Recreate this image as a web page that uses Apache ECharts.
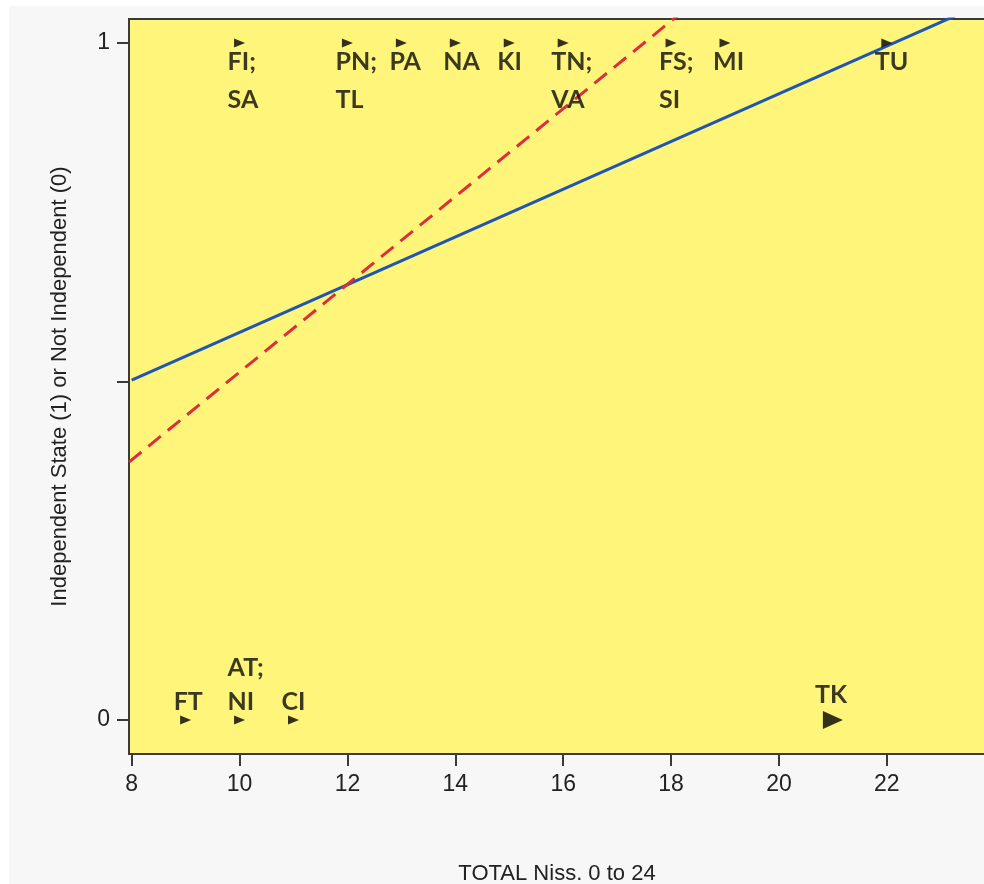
<!DOCTYPE html>
<html>
<head>
<meta charset="utf-8">
<script src="https://cdn.jsdelivr.net/npm/echarts@6/dist/echarts.min.js"></script>
<style>
html,body{margin:0;padding:0;background:#fff;}
#bg{position:absolute;left:9px;top:6px;width:975px;height:878px;background:#f7f7f7;}
#chart{position:absolute;left:0;top:0;width:984px;height:884px;}
</style>
</head>
<body>
<div id="bg"></div>
<div id="chart"></div>
<script>
// Data
const xTicks = [8, 10, 12, 14, 16, 18, 20, 22];
const yTicks = [0, 0.5, 1];
const yTickLabels = [0, 1];

const indepX = [10, 12, 13, 14, 15, 16, 18, 19, 22];
const indepLabels = ['FI;\nSA', 'PN;\nTL', 'PA', 'NA', 'KI', 'TN;\nVA', 'FS;\nSI', 'MI', 'TU'];

const notIndepX = [9, 10, 11];
const notIndepLabels = ['FT', 'AT;\nNI', 'CI'];

const tkX = [21];
const tkLabels = ['TK'];

const linearFit = [[8, 0.502], [24, 1.066]];
const logisticFit = [[7.95, 0.381], [18.5, 1.065]];

const chart = echarts.init(document.getElementById('chart'), null, {renderer: 'canvas'});

const labelFont = {fontFamily: 'Lato', fontWeight: 'bold', fontSize: 25, color: '#0a0a0a'};

function pts(xs, y, labels) {
  return xs.map((x, i) => ({value: [x, y], label: {formatter: labels[i]}}));
}

const option = {
  backgroundColor: 'transparent',
  animation: false,
  grid: {
    left: 129, top: 19, right: -1, bottom: 130,
    outerBoundsMode: 'none', containLabel: false,
    show: true, backgroundColor: '#fff57a', borderColor: '#3a3a3a', borderWidth: 2
  },
  xAxis: {
    type: 'value', min: 7.95, max: 23.82,
    name: 'TOTAL Niss. 0 to 24', nameLocation: 'middle', nameGap: 109,
    nameTextStyle: {fontFamily: 'Liberation Sans', fontSize: 22, color: '#222'},
    splitLine: {show: false},
    axisLine: {show: true, onZero: false, lineStyle: {color: '#3a3a3a', width: 2}},
    axisTick: {show: true, length: 12, customValues: xTicks, lineStyle: {color: '#3a3a3a', width: 2}},
    axisLabel: {customValues: xTicks, margin: 19, fontFamily: 'Liberation Sans', fontSize: 23, color: '#222'}
  },
  yAxis: {
    type: 'value', min: -0.0502, max: 1.0355,
    name: 'Independent State (1) or Not Independent (0)', nameLocation: 'middle', nameGap: 58,
    nameTextStyle: {fontFamily: 'Liberation Sans', fontSize: 22, color: '#222'},
    splitLine: {show: false},
    axisLine: {show: true, onZero: false, lineStyle: {color: '#3a3a3a', width: 2}},
    axisTick: {show: true, length: 12, customValues: yTicks, lineStyle: {color: '#3a3a3a', width: 2}},
    axisLabel: {customValues: yTickLabels, margin: 19, fontFamily: 'Liberation Sans', fontSize: 23, color: '#222'}
  },
  series: [
    {
      type: 'line', data: linearFit, showSymbol: false, clip: true, z: 3,
      lineStyle: {color: '#1f56b4', width: 3}
    },
    {
      type: 'line', data: logisticFit, showSymbol: false, clip: true, z: 3,
      lineStyle: {color: '#d9303c', width: 3, type: [16, 9]}
    },
    {
      type: 'scatter', data: pts(indepX, 1, indepLabels), z: 5,
      symbol: 'triangle', symbolSize: [9, 11], symbolRotate: -90,
      itemStyle: {color: '#000'},
      label: Object.assign({show: true, position: 'bottom', distance: 0, offset: [-12, -5],
        align: 'left', lineHeight: 38}, labelFont)
    },
    {
      type: 'scatter', data: pts(notIndepX, 0, notIndepLabels), z: 5,
      symbol: 'triangle', symbolSize: [9, 11], symbolRotate: -90,
      itemStyle: {color: '#000'},
      label: Object.assign({show: true, position: 'top', distance: 0, offset: [-12, 3],
        align: 'left', lineHeight: 34}, labelFont)
    },
    {
      type: 'scatter', data: pts(tkX, 0, tkLabels), z: 5,
      symbol: 'triangle', symbolSize: [18, 20], symbolRotate: -90,
      itemStyle: {color: '#000'},
      label: Object.assign({show: true, position: 'top', distance: 0, offset: [-18, 1],
        align: 'left', lineHeight: 34}, labelFont)
    }
  ]
};
chart.setOption(option);
</script>
</body>
</html>
